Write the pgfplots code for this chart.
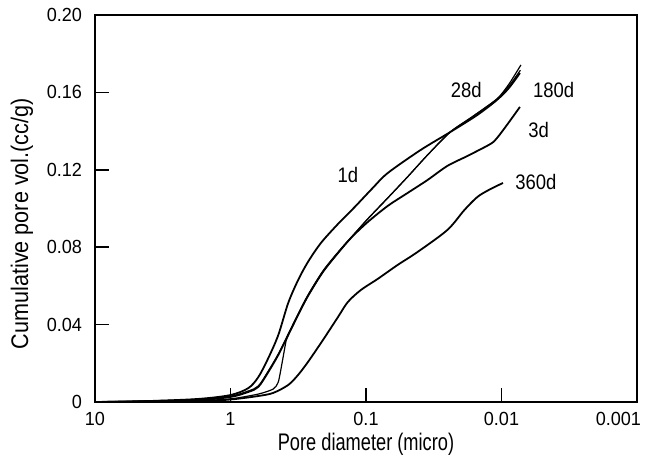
\documentclass[border=0pt]{standalone}
\usepackage{fontspec}
\setmainfont{Liberation Sans}
\newfontfamily\tickfont[FakeStretch=0.95]{Liberation Sans}
\newfontfamily\labfont[FakeStretch=0.76]{Liberation Sans}
\newfontfamily\ylabfont[FakeStretch=0.9]{Liberation Sans}
\newfontfamily\curvefont[FakeStretch=0.88]{Liberation Sans}
\usepackage{pgfplots}
\pgfplotsset{compat=1.18}

\begin{document}
\begin{tikzpicture}
  \begin{axis}[
      name=ax,
      scale only axis,
      width=271pt, height=193.5pt,
      xmode=log, x dir=reverse,
      xmin=0.001, xmax=10,
      ymin=0, ymax=0.2,
      xtick={10,1,0.1,0.01,0.001},
      xticklabels={10,1,0.1,0.01,\makebox[4pt][r]{0.001}},
      xminorticks=false,
      ytick={0,0.04,0.08,0.12,0.16,0.2},
      yticklabels={0,0.04,0.08,0.12,0.16,0.20},
      tick pos=left, tick align=inside,
      major tick length=7pt,
      axis line style={line width=1.2pt},
      tick style={line width=0.8pt, black},
      /pgf/number format/assume math mode=true,
      ticklabel style={font=\tickfont\fontsize{9.5}{11}\selectfont},
      yticklabel style={xshift=-3pt},
      xticklabel style={yshift=-1.5pt},
      xlabel={Pore diameter (micro)},
      ylabel={Cumulative pore vol.(cc/g)},
      xlabel style={at={(axis description cs:0.5,-0.1266)}, anchor=base, font=\labfont\fontsize{12}{14}\selectfont},
      ylabel style={at={(axis description cs:-0.1347,0.461)}, anchor=center, font=\ylabfont\fontsize{12}{14}\selectfont},
    ]
    % 1d
    \addplot[black, line width=0.9pt, smooth, tension=0.5] coordinates {
      (10,0) (4.0,0.0005) (1.718,0.0016) (1.0,0.0036) (0.738,0.0072) (0.623,0.0129)
      (0.526,0.0227) (0.444,0.0346) (0.375,0.0512) (0.317,0.0630) (0.268,0.0724)
      (0.215,0.0822) (0.161,0.0920) (0.121,0.1008) (0.0892,0.1106) (0.0692,0.1183)
      (0.0396,0.1302) (0.0239,0.1395) (0.0151,0.1483) (0.0108,0.1561) (0.00881,0.1623)
      (0.00731,0.1700)};
    % 3d
    \addplot[black, line width=0.9pt, smooth, tension=0.5] coordinates {
      (10,0) (4.0,0.0003) (1.718,0.0010) (1.0,0.0026) (0.738,0.0052) (0.623,0.0078)
      (0.526,0.0155) (0.444,0.0243) (0.375,0.0346) (0.317,0.0450) (0.268,0.0548)
      (0.208,0.0672) (0.161,0.0770) (0.129,0.0848) (0.0971,0.0930) (0.0692,0.1013)
      (0.0494,0.1080) (0.0352,0.1147) (0.0251,0.1220) (0.0179,0.1271) (0.0121,0.1333)
      (0.0108,0.1364) (0.00911,0.1432) (0.00731,0.1525)};
    % 180d
    \addplot[black, line width=0.6pt, smooth, tension=0.5] coordinates {
      (10,0) (4.0,0.0006) (1.718,0.0014) (1.0,0.0030) (0.738,0.0057) (0.623,0.0083)
      (0.526,0.0160) (0.444,0.0248) (0.375,0.0351) (0.317,0.0455) (0.268,0.0553)
      (0.208,0.0677) (0.161,0.0774) (0.129,0.0850) (0.0971,0.0946) (0.0692,0.1054)
      (0.0494,0.1163) (0.0352,0.1276) (0.0239,0.1395) (0.0165,0.1473) (0.0108,0.1566)
      (0.00881,0.1633) (0.00725,0.1715)};
    % 28d
    \addplot[black, line width=0.6pt, smooth, tension=0.4] coordinates {
      (10,0) (1.718,0.0008) (1.0,0.0016) (0.623,0.0041) (0.484,0.0067) (0.444,0.0103)
      (0.415,0.0207) (0.388,0.0320) (0.375,0.0346) (0.317,0.0450) (0.268,0.0548)
      (0.208,0.0672) (0.161,0.0770) (0.129,0.0848) (0.0971,0.0946) (0.0692,0.1054)
      (0.0494,0.1163) (0.0352,0.1276) (0.0239,0.1395) (0.0165,0.1473) (0.0108,0.1566)
      (0.00881,0.1643) (0.00719,0.1742)};
    % 360d
    \addplot[black, line width=0.9pt, smooth, tension=0.5] coordinates {
      (10,0) (1.718,0.0005) (1.0,0.0013) (0.623,0.0031) (0.484,0.0047) (0.375,0.0088)
      (0.317,0.0140) (0.268,0.0207) (0.208,0.0320) (0.161,0.0439) (0.136,0.0517)
      (0.109,0.0579) (0.0820,0.0636) (0.0585,0.0708) (0.0417,0.0775) (0.0251,0.0889)
      (0.0188,0.0992) (0.0151,0.1059) (0.0124,0.1096) (0.00975,0.1132)};
    \node[font=\curvefont\fontsize{10.5}{12}\selectfont] at (axis cs:0.136,0.1173) {1d};
    \node[font=\curvefont\fontsize{10.5}{12}\selectfont] at (axis cs:0.0182,0.1612) {28d};
    \node[font=\curvefont\fontsize{10.5}{12}\selectfont] at (axis cs:0.00412,0.1612) {180d};
    \node[font=\curvefont\fontsize{10.5}{12}\selectfont] at (axis cs:0.00531,0.1406) {3d};
    \node[font=\curvefont\fontsize{10.5}{12}\selectfont] at (axis cs:0.00558,0.1137) {360d};
  \end{axis}
  \pgfresetboundingbox
  \path (ax.south west) ++(-47.5pt,-27.5pt) rectangle ([shift={(4.5pt,7.5pt)}]ax.north east);
\end{tikzpicture}
\end{document}
